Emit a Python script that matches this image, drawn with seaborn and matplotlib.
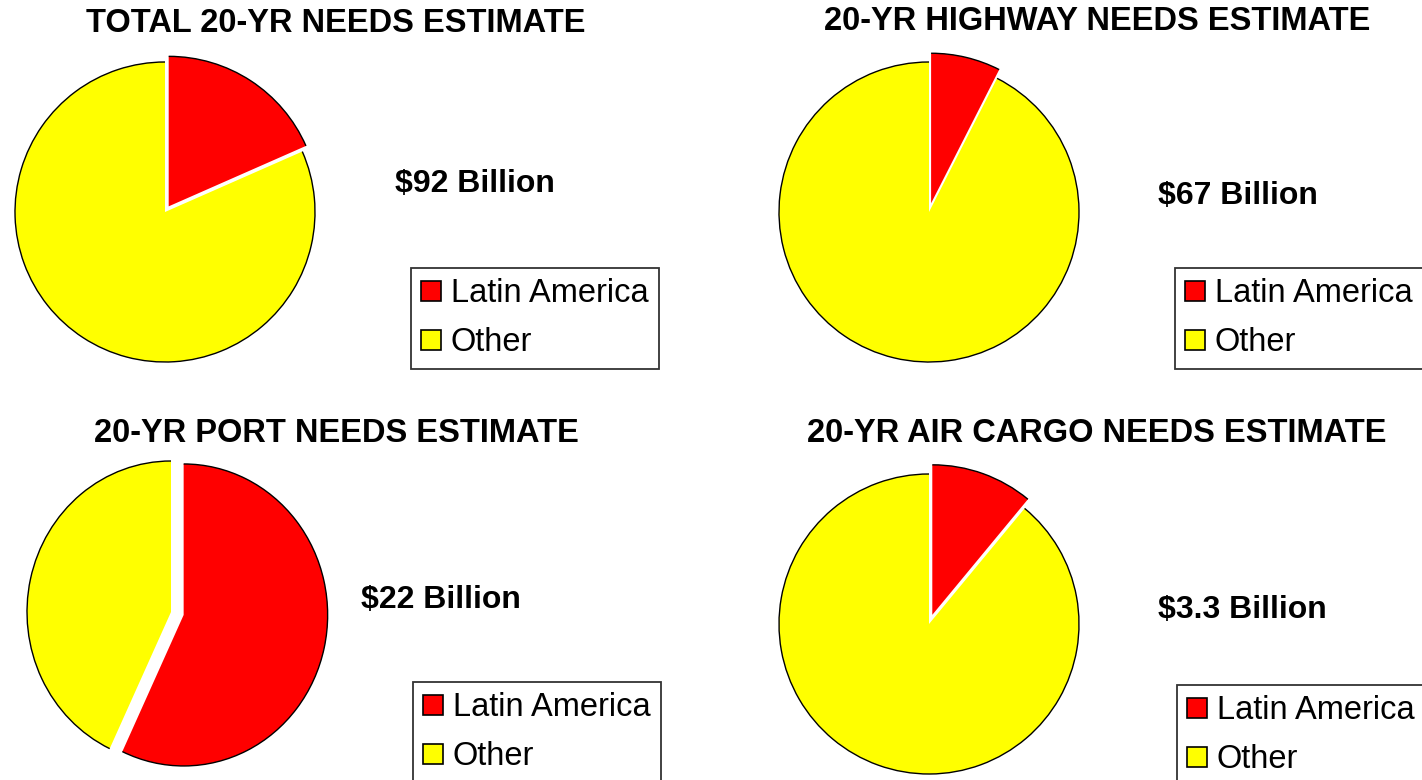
import matplotlib
matplotlib.use("Agg")
import matplotlib.pyplot as plt
import seaborn as sns
from matplotlib.patches import Arc, Patch

sns.set_theme(style="white")
plt.rcParams["font.family"] = ["Liberation Sans", "DejaVu Sans"]
plt.rcParams["text.color"] = "black"

# data
categories = ["Latin America", "Other"]
titles = [
    "TOTAL 20-YR NEEDS ESTIMATE",
    "20-YR HIGHWAY NEEDS ESTIMATE",
    "20-YR PORT NEEDS ESTIMATE",
    "20-YR AIR CARGO NEEDS ESTIMATE",
]
totals = ["$92 Billion", "$67 Billion", "$22 Billion", "$3.3 Billion"]
latin_share = [18.4, 7.5, 57.0, 11.0]
other_share = [81.6, 92.5, 43.0, 89.0]

colors = ["#ff0000", "#ffff00"]
explode = [0.045, 0.06, 0.09, 0.065]

W, H = 1422, 780
fig = plt.figure(figsize=(W / 100, H / 100), dpi=100)

# layout in pixels: pie centre, pie radii, title centre, total label centre,
# legend upper-left
pie_xy = [(165, 212), (929, 212), (171, 612), (929, 624)]
rx_px = [150, 150, 144, 150]
ry_px = [150, 150, 151, 150]
title_xy = [(336, 23), (1097, 21), (336, 433), (1097, 433)]
total_xy = [(475, 184), (1238, 196), (441, 600), (1242, 610)]
legend_xy = [(411, 268), (1175, 268), (413, 682), (1177, 685)]

S = 360  # axes size in px
for i in range(4):
    cx, cy = pie_xy[i]
    ax = fig.add_axes([(cx - S / 2) / W, 1 - (cy + S / 2) / H, S / W, S / H])
    wedges, _ = ax.pie(
        [latin_share[i], other_share[i]],
        colors=colors,
        startangle=90,
        counterclock=False,
        explode=[explode[i], 0],
        radius=1,
        wedgeprops=dict(edgecolor="none"),
    )
    ax.set_aspect("auto")
    ax.set_xlim(-S / 2 / rx_px[i], S / 2 / rx_px[i])
    ax.set_ylim(-S / 2 / ry_px[i], S / 2 / ry_px[i])
    ax.axis("off")
    ax.patch.set_alpha(0)
    for w in wedges:
        ax.add_patch(Arc(w.center, 2 * w.r, 2 * w.r, theta1=w.theta1,
                         theta2=w.theta2, color="black", lw=1.0))

    tx, ty = title_xy[i]
    fig.text(tx / W, 1 - ty / H, titles[i], ha="center", va="center",
             fontsize=23.5, fontweight="bold")
    bx, by = total_xy[i]
    fig.text(bx / W, 1 - by / H, totals[i].replace("$", r"\$"), ha="center",
             va="center", fontsize=23, fontweight="bold")

    handles = [Patch(facecolor=c, edgecolor="black", lw=1.2) for c in colors]
    lx, ly = legend_xy[i]
    leg = fig.legend(handles, categories, loc="upper left",
                     bbox_to_anchor=(lx / W, 1 - ly / H), fontsize=23.5,
                     frameon=True, fancybox=False, handlelength=0.6,
                     handleheight=0.6, handletextpad=0.3,
                     labelspacing=0.55, borderpad=0.32, borderaxespad=0)
    leg.get_frame().set_edgecolor("black")
    leg.get_frame().set_linewidth(1.3)
    for t in leg.get_texts():
        t.set_color("black")

fig.savefig("out.png", dpi=100)
